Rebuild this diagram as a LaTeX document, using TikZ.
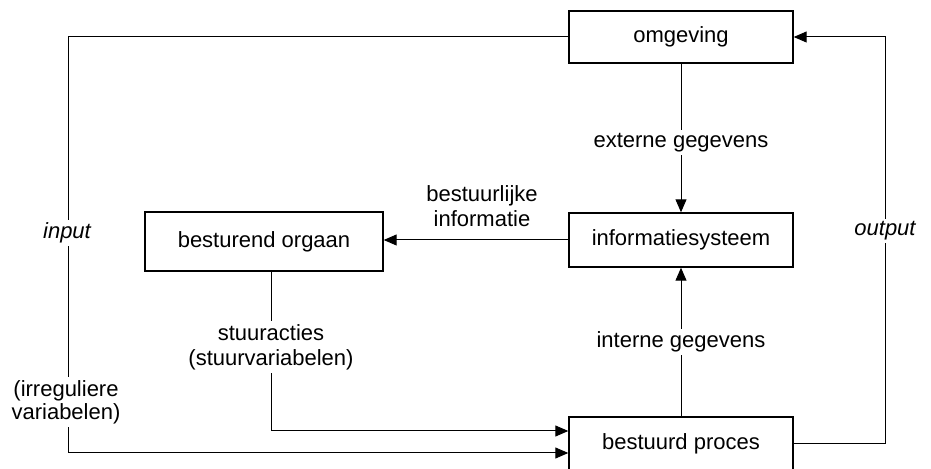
\documentclass[tikz,border=0pt]{standalone}
\usepackage{fontspec}
\setmainfont{Liberation Sans}
\usetikzlibrary{arrows.meta}
\begin{document}
\begin{tikzpicture}[x=0.5pt,y=-0.5pt,
  txt/.style={font=\fontsize{11}{12.5}\selectfont},
  box/.style={draw, line width=0.7pt, minimum width=112pt, minimum height=27pt, inner sep=0pt, txt},
  lbl/.style={fill=white, inner sep=1.5pt, align=center, txt},
  arr/.style={line width=0.5pt, -{Triangle[length=6.5pt,width=5.5pt]}},
  ln/.style={line width=0.5pt}]
\useasboundingbox (0,0) rectangle (931,469);
% boxes
\node[box, minimum height=26pt] (omg) at (681,37) {omgeving};
\node[box] (info) at (681,240) {informatiesysteem};
\node[box, minimum width=119pt, minimum height=29.5pt] (bo) at (264,241.5) {besturend orgaan};
\node[box] (proc) at (681,444) {bestuurd proces};
% helper coordinates
\coordinate (ib) at (68,453);
\coordinate (sb) at (271,431);
\coordinate (oc) at (885,444);
% connectors
\draw[arr] (omg) -- node[lbl, pos=0.53] (ext) {externe gegevens} (info);
\draw[arr] (proc) -- node[lbl] (int) {interne gegevens} (info);
\draw[arr] (info.west) -- (info.west -| bo.east);
\node[txt, align=center] (bi) at (482,206) {bestuurlijke\\informatie};
\draw[arr] (sb |- bo.south) -- (sb) -- (sb -| proc.west);
\node[lbl] (st) at (271,347) {stuuracties\\(stuurvariabelen)};
\draw[arr] (omg.west) -| (ib) -- (ib -| proc.west);
\node[lbl, font=\fontsize{11}{12.5}\selectfont\itshape] (inp) at (67,233) {input};
\node[lbl, font=\fontsize{11}{11.5}\selectfont] (irr) at (66,402) {(irreguliere\\variabelen)};
\draw[arr] (proc.east) -- (oc) |- (omg.east);
\node[lbl, font=\fontsize{11}{12.5}\selectfont\itshape] (out) at (885,231) {output};
\end{tikzpicture}
\end{document}
